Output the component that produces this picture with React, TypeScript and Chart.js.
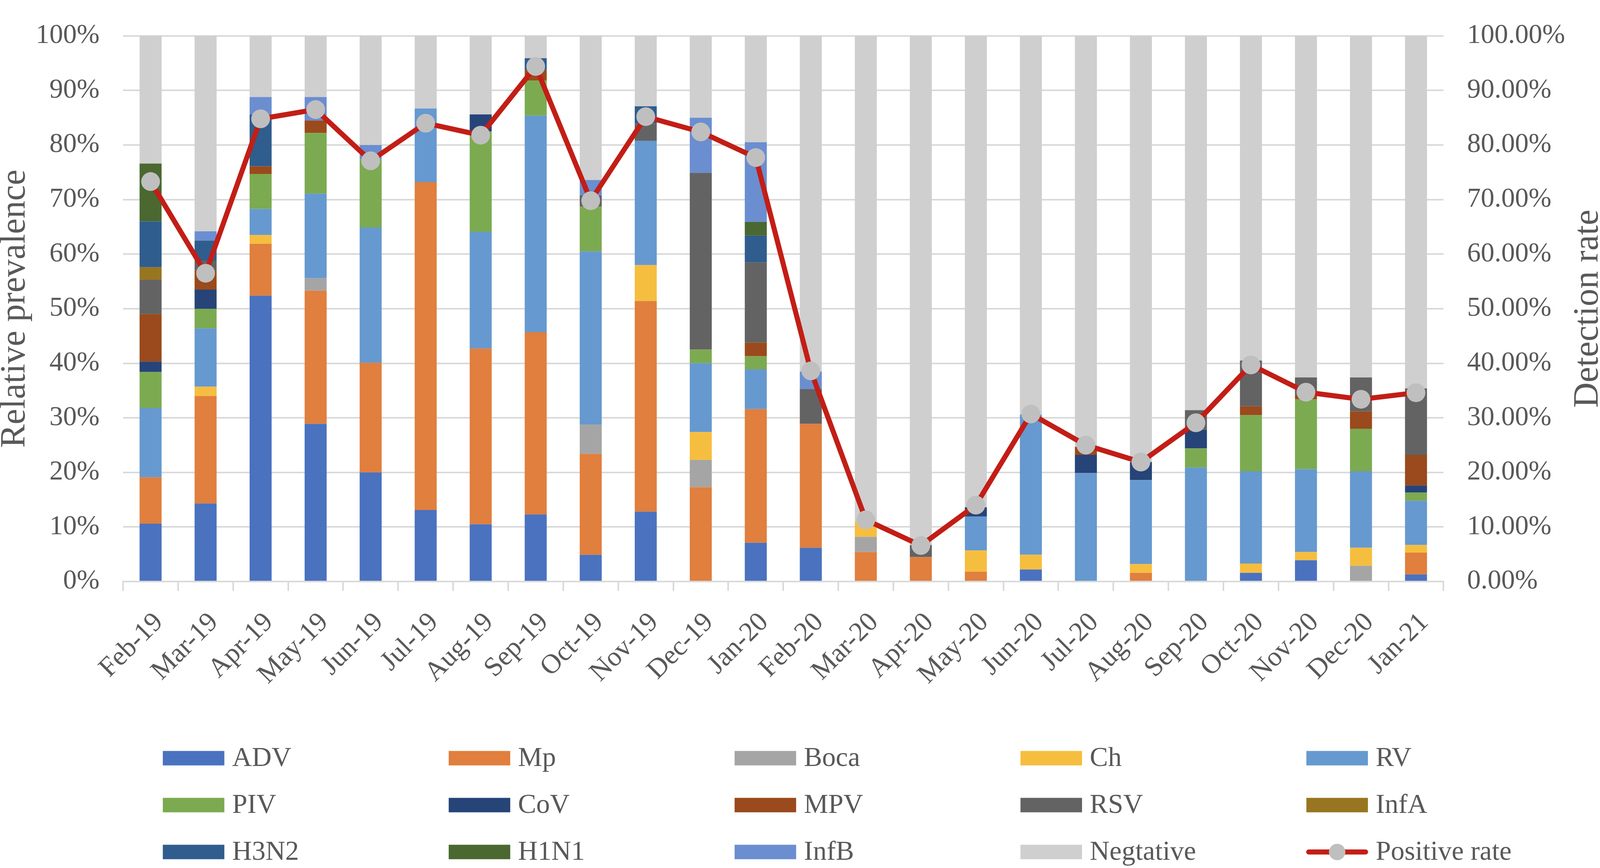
import React, { useEffect, useRef } from 'react';
import { Chart, registerables } from 'chart.js';

Chart.register(...registerables);

const months = [
  'Feb-19', 'Mar-19', 'Apr-19', 'May-19', 'Jun-19', 'Jul-19', 'Aug-19', 'Sep-19',
  'Oct-19', 'Nov-19', 'Dec-19', 'Jan-20', 'Feb-20', 'Mar-20', 'Apr-20', 'May-20',
  'Jun-20', 'Jul-20', 'Aug-20', 'Sep-20', 'Oct-20', 'Nov-20', 'Dec-20', 'Jan-21',
];

const ADV = [10.6, 14.3, 52.4, 28.9, 20.0, 13.1, 10.5, 12.3, 4.9, 12.8, 0, 7.1, 6.2, 0, 0, 0, 2.2, 0, 0, 0, 1.6, 3.9, 0, 1.3];
const Mp = [8.5, 19.7, 9.5, 24.4, 20.1, 60.1, 32.2, 33.4, 18.5, 38.6, 17.3, 24.5, 22.7, 5.4, 4.5, 1.8, 0, 0, 1.6, 0, 0, 0, 0, 4.0];
const Boca = [0, 0, 0, 2.3, 0, 0, 0, 0, 5.4, 0, 5.0, 0, 0, 2.8, 0, 0, 0, 0, 0, 0, 0, 0, 2.9, 0];
const Ch = [0, 1.7, 1.6, 0, 0, 0, 0, 0, 0, 6.6, 5.1, 0, 0, 2.8, 0, 3.9, 2.7, 0, 1.6, 0, 1.7, 1.5, 3.3, 1.4];
const RV = [12.7, 10.7, 4.8, 15.5, 24.8, 13.5, 21.4, 39.7, 31.7, 22.8, 12.6, 7.3, 0, 0, 0, 6.2, 25.7, 19.9, 15.4, 20.9, 16.9, 15.2, 14.0, 8.1];
const PIV = [6.6, 3.6, 6.4, 11.1, 12.5, 0, 18.4, 6.4, 8.2, 0, 2.5, 2.4, 0, 0, 0, 0, 0, 0, 0, 3.5, 10.3, 12.8, 7.8, 1.5];
const CoV = [1.9, 3.5, 0, 0, 0, 0, 3.1, 0, 0, 0, 0, 0, 0, 0, 0, 1.7, 0, 3.3, 3.3, 3.4, 0, 0, 0, 1.3];
const MPV = [8.7, 3.5, 1.4, 2.3, 0, 0, 0, 1.9, 0, 0, 0, 2.5, 0, 0, 0, 0, 0, 1.5, 0, 0, 1.6, 0.7, 3.2, 5.6];
const RSV = [6.3, 1.8, 0, 0, 0, 0, 0, 0, 2.1, 3.1, 32.4, 14.7, 6.4, 0, 2.2, 0, 0, 0, 0, 3.6, 8.4, 3.3, 6.2, 12.2];
const InfA = [2.3, 0, 0, 0, 0, 0, 0, 0, 0, 0, 0, 0, 0, 0, 0, 0, 0, 0, 0, 0, 0, 0, 0, 0];
const H3N2 = [8.4, 3.7, 9.5, 0, 0, 0, 0, 2.2, 0, 3.2, 0, 4.9, 0, 0, 0, 0, 0, 0, 0, 0, 0, 0, 0, 0];
const H1N1 = [10.6, 0, 0, 0, 0, 0, 0, 0, 0, 0, 0, 2.5, 0, 0, 0, 0, 0, 0, 0, 0, 0, 0, 0, 0];
const InfB = [0, 1.7, 3.2, 4.3, 2.6, 0, 0, 0, 2.8, 0, 10.1, 14.6, 3.2, 0, 0, 0, 0, 0, 0, 0, 0, 0, 0, 0];
const Negative = [23.4, 35.8, 11.2, 11.2, 20.0, 13.3, 14.4, 4.1, 26.4, 12.9, 15.0, 19.5, 61.5, 89.0, 93.3, 86.4, 69.4, 75.3, 78.1, 68.6, 59.5, 62.6, 62.6, 64.6];
const positiveRate = [73.3, 56.5, 84.8, 86.5, 77.1, 84.0, 81.8, 94.4, 69.8, 85.2, 82.4, 77.7, 38.6, 11.3, 6.6, 14.0, 30.7, 25.0, 21.9, 29.1, 39.7, 34.7, 33.4, 34.6];

const barSeries: [string, number[], string][] = [
  ['ADV', ADV, '#4A72BF'],
  ['Mp', Mp, '#E07F3E'],
  ['Boca', Boca, '#A5A5A5'],
  ['Ch', Ch, '#F6BE3F'],
  ['RV', RV, '#6699CF'],
  ['PIV', PIV, '#7CAA51'],
  ['CoV', CoV, '#264478'],
  ['MPV', MPV, '#9A4A1C'],
  ['RSV', RSV, '#636363'],
  ['InfA', InfA, '#987520'],
  ['H3N2', H3N2, '#2F5D8E'],
  ['H1N1', H1N1, '#4A6830'],
  ['InfB', InfB, '#6B8ED0'],
  ['Negtative', Negative, '#CFCFCF'],
];

const FONT = "'Liberation Serif', 'Times New Roman', serif";
const TEXT = '#595959';
const LINE_RED = '#C21E16';
const MARKER = '#BFBFBF';
const GRID = '#D9D9D9';

// reference design size
const REF_W = 4550;
const REF_H = 2221;

function makeOverlay(sx: number, sy: number) {
  return {
    id: 'overlay',
    afterDraw(chart: any) {
      const ctx = chart.ctx as CanvasRenderingContext2D;
      const ca = chart.chartArea;
      const cy = (ca.top + ca.bottom) / 2;
      const titleSize = Math.round(90 * sy);

      ctx.save();
      ctx.fillStyle = TEXT;
      ctx.font = `${titleSize}px ${FONT}`;
      ctx.textAlign = 'center';
      ctx.textBaseline = 'alphabetic';
      ctx.translate(70 * sx, cy);
      ctx.rotate(-Math.PI / 2);
      ctx.fillText('Relative prevalence', 0, 0);
      ctx.restore();

      ctx.save();
      ctx.fillStyle = TEXT;
      ctx.font = `${titleSize}px ${FONT}`;
      ctx.textAlign = 'center';
      ctx.textBaseline = 'alphabetic';
      ctx.translate(4543 * sx, cy);
      ctx.rotate(-Math.PI / 2);
      ctx.fillText('Detection rate', 0, 0);
      ctx.restore();

      const ds = chart.data.datasets;
      ctx.save();
      ctx.font = `${Math.round(70 * sy)}px ${FONT}`;
      ctx.textAlign = 'left';
      ctx.textBaseline = 'middle';
      ds.forEach((d: any, i: number) => {
        const col = i % 5;
        const row = Math.floor(i / 5);
        const x = (463 + 813 * col) * sx;
        const y = (1940 + 120 * row) * sy;
        const w = 175 * sx;
        if (d.type === 'line') {
          ctx.strokeStyle = d.borderColor;
          ctx.lineWidth = 13 * sy;
          ctx.lineCap = 'round';
          ctx.beginPath();
          ctx.moveTo(x + 6, y);
          ctx.lineTo(x + w - 6, y);
          ctx.stroke();
          ctx.fillStyle = d.pointBackgroundColor;
          ctx.beginPath();
          ctx.arc(x + w / 2, y, 21 * sy, 0, Math.PI * 2);
          ctx.fill();
        } else {
          ctx.fillStyle = d.backgroundColor;
          ctx.fillRect(x, y - 18.5 * sy, w, 37 * sy);
        }
        ctx.fillStyle = TEXT;
        ctx.fillText(d.label, x + w + 22 * sx, y + 2 * sy);
      });
      ctx.restore();
    },
  };
}

export default function App() {
  const canvasRef = useRef<HTMLCanvasElement | null>(null);
  const boxRef = useRef<HTMLDivElement | null>(null);

  useEffect(() => {
    const canvas = canvasRef.current;
    const box = boxRef.current;
    if (!canvas || !box) return;

    const W = Math.min(window.innerWidth || REF_W, REF_W);
    const H = Math.min(window.innerHeight || REF_H, REF_H);
    const sx = W / REF_W;
    const sy = H / REF_H;

    box.style.width = `${W}px`;
    box.style.height = `${H}px`;
    canvas.width = W;
    canvas.height = H;
    canvas.style.width = `${W}px`;
    canvas.style.height = `${H}px`;

    const fs = Math.round(70 * sy);

    const datasets: any[] = barSeries.map(([label, data, color]) => ({
      type: 'bar',
      label,
      data,
      backgroundColor: color,
      borderWidth: 0,
      stack: 'main',
      yAxisID: 'y',
      order: 1,
      barPercentage: 0.4,
      categoryPercentage: 1.0,
    }));
    datasets.push({
      type: 'line',
      label: 'Positive rate',
      data: positiveRate,
      borderColor: LINE_RED,
      backgroundColor: LINE_RED,
      borderWidth: 13 * sy,
      pointRadius: 24 * sy,
      pointHoverRadius: 24 * sy,
      pointBackgroundColor: MARKER,
      pointBorderColor: MARKER,
      pointBorderWidth: 0,
      tension: 0,
      fill: false,
      yAxisID: 'y1',
      order: 0,
    });

    const chart = new Chart(canvas, {
      type: 'bar',
      data: { labels: months, datasets },
      options: {
        responsive: false,
        animation: false,
        devicePixelRatio: 1,
        layout: { padding: { top: 34 * sy, bottom: 341 * sy, left: 0, right: 0 } },
        plugins: {
          legend: { display: false },
          tooltip: { enabled: false },
          title: { display: false },
        },
        scales: {
          x: {
            stacked: true,
            offset: true,
            grid: {
              display: true,
              drawOnChartArea: false,
              drawTicks: true,
              tickLength: 24 * sy,
              offset: true,
              color: GRID,
              lineWidth: 4,
            },
            border: { display: true, color: GRID, width: 4 },
            ticks: {
              autoSkip: false,
              maxRotation: 45,
              minRotation: 45,
              padding: 40 * sy,
              labelOffset: 24 * sx,
              color: TEXT,
              font: { family: FONT, size: fs },
            },
            afterFit: (scale: any) => {
              scale.height = 392 * sy;
            },
          },
          y: {
            stacked: true,
            position: 'left',
            min: 0,
            max: 100,
            grid: { color: GRID, lineWidth: 4, drawTicks: false },
            border: { display: false },
            ticks: {
              stepSize: 10,
              padding: 67 * sx,
              color: TEXT,
              font: { family: FONT, size: fs, lineHeight: 0.9 },
              callback: (v: any) => `${v}%`,
            },
            afterFit: (scale: any) => {
              scale.width = 350 * sx;
            },
          },
          y1: {
            position: 'right',
            min: 0,
            max: 100,
            grid: { display: false, drawTicks: false },
            border: { display: false },
            ticks: {
              stepSize: 10,
              padding: 67 * sx,
              color: TEXT,
              font: { family: FONT, size: fs, lineHeight: 0.9 },
              callback: (v: any) => `${Number(v).toFixed(2)}%`,
            },
            afterFit: (scale: any) => {
              scale.width = 445 * sx;
            },
          },
        },
      },
      plugins: [makeOverlay(sx, sy)],
    } as any);

    return () => {
      chart.destroy();
    };
  }, []);

  return (
    <div ref={boxRef} style={{ position: 'absolute', left: 0, top: 0, width: REF_W, height: REF_H, background: '#FFFFFF', overflow: 'hidden' }}>
      <canvas ref={canvasRef} style={{ display: 'block' }} />
    </div>
  );
}
